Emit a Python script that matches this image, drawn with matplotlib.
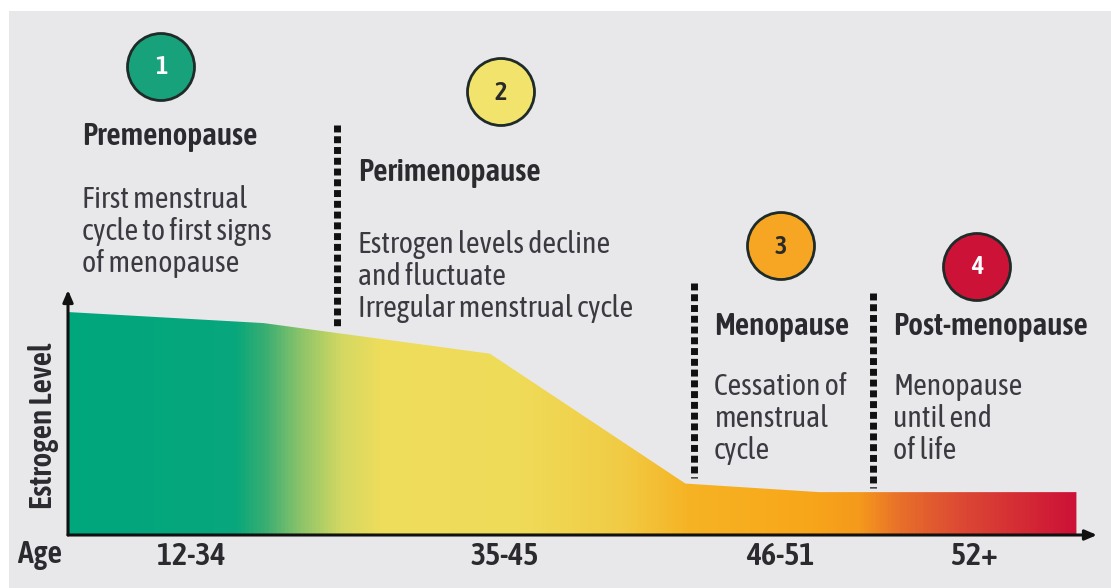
"""Estrogen level across the menopause stages."""
import numpy as np
import matplotlib
matplotlib.use('Agg')
import matplotlib.pyplot as plt
from matplotlib.colors import LinearSegmentedColormap
from matplotlib.patches import Rectangle, Circle

plt.rcParams['font.family'] = ['Asap Condensed', 'Archivo Narrow', 'DejaVu Sans']

# curve: relative position along life span vs estrogen level
position = [0, 19, 41, 60, 73, 98]
level = [91, 86.5, 74, 21, 17.5, 17.5]

age_ticks = [12, 42.4, 69.2, 88.1]
age_labels = ['12-34', '35-45', '46-51', '52+']

stages = ['Premenopause', 'Perimenopause', 'Menopause', 'Post-menopause']
stage_numbers = ['1', '2', '3', '4']
stage_notes = ['First menstrual\ncycle to first signs\nof menopause',
               'Estrogen levels decline\nand fluctuate\nIrregular menstrual cycle',
               'Cessation of\nmenstrual\ncycle',
               'Menopause\nuntil end\nof life']
stage_colors = ['#17a27c', '#f1e36c', '#f6a623', '#cd1238']
number_colors = ['white', '#2a2a2a', '#2a2a2a', 'white']

# gradient stops along the x position
grad_pos = [0, 16.2, 19.1, 22.5, 26.4, 30.3, 43.9, 53.6, 60.4, 71.1, 76.9, 80.9, 86.7, 98]
grad_col = ['#00a67d', '#08a77c', '#3aae72', '#8cc46a', '#d2d862', '#eedd5c', '#efdb58',
            '#f1cc45', '#f6b324', '#f8a81a', '#f59a1c', '#e8702a', '#dc4a33', '#cd1137']

BG = '#e8e8ea'
INK = '#2b2b2f'


def main():
    fig = plt.figure(figsize=(11.11, 5.88), dpi=100)
    fig.patch.set_facecolor('white')
    fig.patches.append(Rectangle((9 / 1111, 0), 1, 1 - 11 / 588, transform=fig.transFigure,
                                 facecolor=BG, edgecolor='none', zorder=-5))

    # chart area
    ax = fig.add_axes([68 / 1111, 53 / 588, 1029 / 1111, 245 / 588])
    ax.set_facecolor('none')
    ax.set_xlim(0, 100)
    ax.set_ylim(0, 100)

    poly = ax.fill_between(position, 0, level, facecolor='none', edgecolor='none')
    cmap = LinearSegmentedColormap.from_list(
        'stages', [(p / position[-1], c) for p, c in zip(grad_pos, grad_col)])
    grad = np.linspace(0, 1, 512).reshape(1, -1)
    im = ax.imshow(grad, cmap=cmap, aspect='auto', extent=[0, position[-1], 0, 100],
                   origin='lower', zorder=1)
    im.set_clip_path(poly.get_paths()[0], transform=ax.transData)

    for s in ax.spines.values():
        s.set_visible(False)
    ax.set_yticks([])
    ax.set_xticks(age_ticks)
    ax.set_xticklabels(age_labels, fontsize=23, fontweight=600, color=INK)
    ax.tick_params(axis='x', length=0, pad=4)

    arrow = dict(arrowstyle='-|>,head_length=0.7,head_width=0.3', color='#111111', lw=2.2,
                 shrinkA=0, shrinkB=0)
    ax.annotate('', xy=(1, 0), xytext=(0, 0), xycoords='axes fraction', arrowprops=arrow, zorder=3)
    ax.annotate('', xy=(0, 1), xytext=(0, 0), xycoords='axes fraction', arrowprops=arrow, zorder=3)

    # overlay in pixel units for the annotations
    ov = fig.add_axes([0, 0, 1, 1])
    ov.set_xlim(0, 1111)
    ov.set_ylim(588, 0)
    ov.axis('off')
    ov.set_facecolor('none')

    ov.text(40, 555, 'Age', fontsize=23, fontweight=600, color=INK, ha='center', va='center')
    ov.text(44, 426, 'Estrogen Level', fontsize=22.5, fontweight=600, color=INK,
            rotation=90, ha='center', va='center')

    # dotted stage dividers
    for x, y0, y1 in [(337, 125, 326), (694, 283, 478), (873, 293, 488)]:
        ov.plot([x, x], [y0, y1], color='#111111', lw=5, dashes=(1, 0.55),
                solid_capstyle='butt', dash_capstyle='butt')

    circles = [(161, 67), (501, 92), (781, 246), (977, 267)]
    titles = [(82, 137), (358, 172), (714, 327), (893, 327)]
    notes = [(82, 185), (358, 230), (714, 372), (893, 372)]
    for i in range(4):
        cx, cy = circles[i]
        ov.add_patch(Circle((cx, cy), 33.5, facecolor=stage_colors[i], edgecolor='#1e2b28', lw=2))
        ov.text(cx, cy, stage_numbers[i], fontsize=19, fontweight=600, color=number_colors[i],
                ha='center', va='center')
        tx, ty = titles[i]
        ov.text(tx, ty, stages[i], fontsize=22.5, fontweight=600, color=INK, ha='left', va='center')
        nx, ny = notes[i]
        ov.text(nx, ny, stage_notes[i], fontsize=21.5, color='#3a3a40', ha='left', va='top',
                linespacing=1.13)

    fig.savefig('out.png', dpi=100, facecolor=fig.get_facecolor())
    plt.close(fig)


if __name__ == "__main__":
    main()
